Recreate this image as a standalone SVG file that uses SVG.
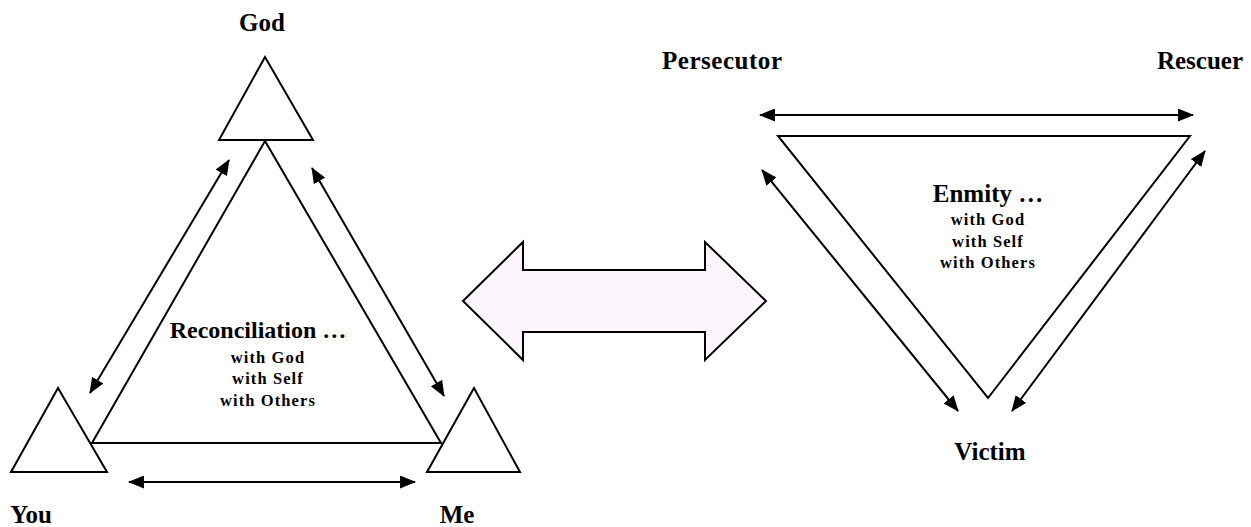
<svg xmlns="http://www.w3.org/2000/svg" width="1251" height="527" viewBox="0 0 1251 527">
<style>
.shape{fill:#ffffff;stroke:#000000;stroke-width:2;stroke-linejoin:miter}
.conn{stroke:#000000;stroke-width:2;fill:none;marker-start:url(#ah);marker-end:url(#ah)}
.lbl{font-family:"Liberation Serif","Times New Roman",serif;font-weight:bold;font-size:25px;fill:#000000;text-anchor:middle}
.title{font-family:"Liberation Serif","Times New Roman",serif;font-weight:bold;font-size:24px;fill:#000000;text-anchor:middle}
.sub{font-family:"Liberation Serif","Times New Roman",serif;font-weight:bold;font-size:16.5px;letter-spacing:1.1px;fill:#000000;text-anchor:middle}
</style>
<defs>
<marker id="ah" viewBox="0 0 16 13" refX="15" refY="6.5" markerWidth="16" markerHeight="13" markerUnits="userSpaceOnUse" orient="auto-start-reverse">
<path d="M0,0 L16,6.5 L0,13 z" fill="#000000"/>
</marker>
</defs>
<rect width="1251" height="527" fill="#ffffff"/>

<g id="god">
<polygon class="shape" points="265,57 219,140 313,140"/>
<text class="lbl" x="262" y="31">God</text>
</g>
<g id="you">
<polygon class="shape" points="58,388 11,472 107,472"/>
<text class="lbl" x="31" y="523">You</text>
</g>
<g id="me">
<polygon class="shape" points="474,388 427,472 520,472"/>
<text class="lbl" x="457" y="523">Me</text>
</g>
<g id="reconciliation">
<polygon class="shape" points="265,141 92,443 441,443"/>
<text class="title" x="258" y="338">Reconciliation …</text>
<text class="sub" x="268" y="363">with God</text>
<text class="sub" x="268" y="384">with Self</text>
<text class="sub" x="268" y="406">with Others</text>
</g>

<g id="exchange">
<polygon points="463,301 523,242 523,270 705,270 705,242 766,301 705,360 705,332 523,332 523,360" fill="#fdf7fd" stroke="#000000" stroke-width="2" stroke-linejoin="miter"/>
</g>

<g id="enmity">
<polygon class="shape" points="778,136 1190,136 988,398"/>
<text class="title" x="988" y="202" style="font-size:25px">Enmity …</text>
<text class="sub" x="988" y="225">with God</text>
<text class="sub" x="988" y="247">with Self</text>
<text class="sub" x="988" y="268">with Others</text>
</g>
<g id="persecutor">
<text class="lbl" x="722" y="69" textLength="120" lengthAdjust="spacing">Persecutor</text>
</g>
<g id="rescuer">
<text class="lbl" x="1200" y="69">Rescuer</text>
</g>
<g id="victim">
<text class="lbl" x="990" y="460">Victim</text>
</g>

<g id="connectors">
<line class="conn" x1="129" y1="482" x2="415" y2="482"/>
<line class="conn" x1="229" y1="160" x2="90" y2="393"/>
<line class="conn" x1="312" y1="168" x2="444" y2="396"/>
<line class="conn" x1="760" y1="115" x2="1193" y2="115"/>
<line class="conn" x1="762" y1="170" x2="958" y2="411"/>
<line class="conn" x1="1205" y1="151" x2="1012" y2="411"/>
</g>
</svg>
